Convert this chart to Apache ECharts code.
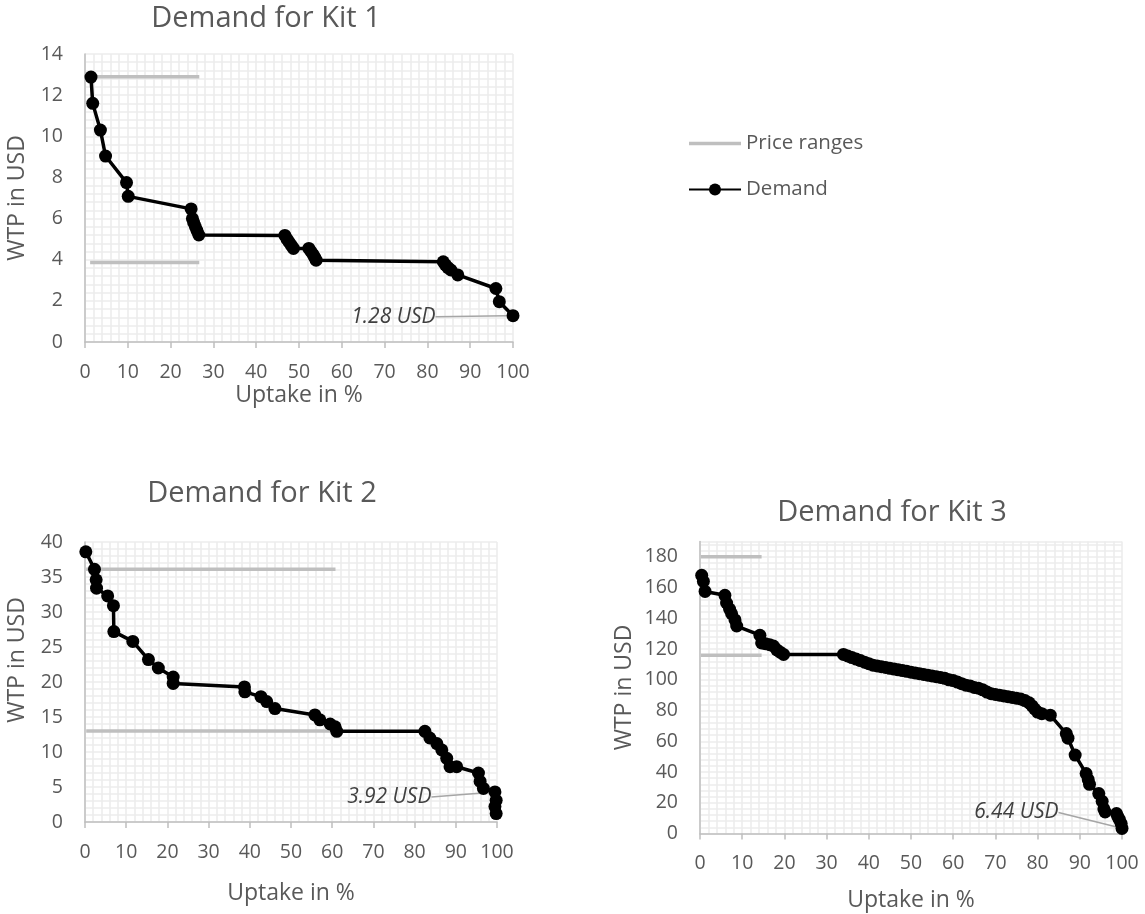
<!DOCTYPE html>
<html>
<head>
<meta charset="utf-8">
<script src="https://cdn.jsdelivr.net/npm/echarts@6/dist/echarts.min.js"></script>
<style>html,body{margin:0;padding:0;background:#fff;}#c{width:1145px;height:914px;}</style>
</head>
<body>
<div id="c"></div>
<script>
// ---- Data ----
const titles = ['Demand for Kit 1', 'Demand for Kit 2', 'Demand for Kit 3'];
const xName = 'Uptake in %';
const yName = 'WTP in USD';

const kit1X = [1.4, 1.8, 3.6, 4.8, 9.7, 10.1, 24.8, 25.1, 25.4, 25.8, 26.2, 26.6, 46.7, 47.2, 47.7, 48.2, 48.7, 52.3, 52.8, 53.3, 53.7, 54.0, 83.7, 84.2, 84.8, 85.5, 87.1, 96.0, 96.8, 100];
const kit1Y = [12.88, 11.6, 10.3, 9.04, 7.75, 7.08, 6.47, 6.0, 5.8, 5.6, 5.4, 5.2, 5.18, 5.0, 4.85, 4.7, 4.55, 4.55, 4.4, 4.25, 4.1, 3.98, 3.9, 3.75, 3.62, 3.5, 3.26, 2.6, 1.96, 1.28];

const kit2X = [0.2, 2.3, 2.7, 2.8, 5.5, 6.9, 7.0, 11.6, 15.4, 17.8, 21.4, 21.4, 38.7, 38.8, 42.7, 44.1, 46.1, 55.8, 57.0, 59.5, 60.7, 61.1, 82.5, 83.7, 85.4, 86.6, 87.8, 88.6, 90.2, 95.5, 95.9, 96.7, 99.5, 99.8, 99.5, 99.8];
const kit2Y = [38.6, 36.1, 34.6, 33.4, 32.3, 30.9, 27.2, 25.8, 23.2, 22.0, 20.7, 19.8, 19.3, 18.6, 17.9, 17.2, 16.2, 15.3, 14.6, 14.0, 13.6, 12.95, 12.95, 12.0, 11.2, 10.3, 9.1, 7.9, 7.9, 7.0, 5.8, 4.8, 4.3, 3.1, 2.2, 1.2];

const kit3X = [0.4, 0.8, 1.2, 5.9, 6.3, 7.0, 7.5, 8.3, 8.7, 14.2, 14.6, 15.5, 16.5, 17.4, 18.2, 19.0, 19.8,
  34, 35, 36, 37, 38, 39, 40, 41, 42, 43, 44, 45, 46, 47, 48, 49, 50, 51, 52, 53, 54, 55, 56, 57, 58, 59, 60,
  61, 62, 63, 64, 65, 66, 67, 68, 69, 70, 71, 72, 73, 74, 75, 76, 77, 78, 78.7, 79.3, 80, 81, 83,
  86.8, 87.2, 88.9, 91.5, 92.0, 92.3, 94.5, 95.3, 95.7, 96.0, 98.7, 99.0, 99.4, 99.8, 100];
const kit3Y = [168, 164, 157.5, 155, 150, 146, 143, 139, 135, 129, 124, 123.5, 122.8, 122, 119.5, 118, 116.5,
  116.5, 115.5, 114.5, 113.5, 112.5, 111.5, 110.5, 109.5, 109, 108.5, 108, 107.5, 107, 106.5, 106, 105.5, 105, 104.5, 104, 103.5, 103, 102.5, 102, 101.5, 101, 100, 99.5,
  98.5, 97.5, 96.5, 96, 95, 94.5, 93.5, 92, 91, 90.5, 90, 89.5, 89, 88.5, 88, 87.5, 86.5, 85, 83, 81, 79, 78, 77,
  65, 62, 51, 39, 35, 32, 26, 21, 16, 14, 13, 11, 9, 6.44, 3.3];

// price ranges: [xStart, xEnd], levels
const kit1PriceX = [1.2, 26.7], kit1PriceLevels = [12.9, 3.87];
const kit2PriceX = [0.3, 60.8], kit2PriceLevels = [36.1, 13.0];
const kit3PriceX = [0.2, 14.6], kit3PriceLevels = [180, 116];

// annotations (text, index of demand point)
const kit1Note = ['1.28 USD', kit1X.length - 1];
const kit2Note = ['3.92 USD', 32];
const kit3Note = ['6.44 USD', kit3X.length - 1];

// axis scales
const yMax = [14, 40, 190], yStep = [2, 5, 20];

// ---- Layout / style ----
const FONT = 'Open Sans';
const TXT = '#595959';
const grids = [
  {left: 85, top: 54, width: 428, height: 288},
  {left: 85, top: 542, width: 412, height: 280},
  {left: 700, top: 541.5, width: 422, height: 292}
];
const xNameGap = [42, 60, 55];
const yNameGap = [56, 56, 64];
const yNamePad = [[0,0,0,0],[0,0,0,44],[0,0,0,0]];
const labelShift = [{dx: -66, dy: 1}, {dx: -52, dy: 5}, {dx: -52, dy: -16}];

const chart = echarts.init(document.getElementById('c'), null, {renderer: 'canvas'});

const xAxes = [], yAxes = [], series = [];
const gridLine = {show: true, lineStyle: {color: '#ededed', width: 1.6}};
const kits = [
  {x: kit1X, y: kit1Y, px: kit1PriceX, pl: kit1PriceLevels, note: kit1Note},
  {x: kit2X, y: kit2Y, px: kit2PriceX, pl: kit2PriceLevels, note: kit2Note},
  {x: kit3X, y: kit3Y, px: kit3PriceX, pl: kit3PriceLevels, note: kit3Note}
];

kits.forEach((k, i) => {
  xAxes.push({
    gridIndex: i, type: 'value', min: 0, max: 100, interval: 10,
    name: xName, nameLocation: 'middle', nameGap: xNameGap[i],
    nameTextStyle: {fontFamily: FONT, fontSize: 23, color: TXT},
    axisLine: {show: true, onZero: false, lineStyle: {color: '#bfbfbf', width: 1.5}},
    axisTick: {show: true, length: 6, lineStyle: {color: '#bfbfbf', width: 1.5}},
    axisLabel: {fontFamily: FONT, fontSize: 19.5, color: TXT, margin: 20},
    splitLine: gridLine,
    minorTick: {show: false, splitNumber: 5},
    minorSplitLine: {show: true, lineStyle: {color: '#ededed', width: 1.6}}
  });
  yAxes.push({
    gridIndex: i, type: 'value', min: 0, max: yMax[i], interval: yStep[i],
    name: yName, nameLocation: 'middle', nameGap: yNameGap[i],
    nameTextStyle: {fontFamily: FONT, fontSize: 23, color: TXT, padding: yNamePad[i]},
    axisLine: {show: true, lineStyle: {color: '#bfbfbf', width: 1.5}},
    axisTick: {show: false},
    axisLabel: {fontFamily: FONT, fontSize: 19.5, color: TXT, margin: 22, showMaxLabel: i === 2 ? false : true},
    splitLine: gridLine,
    minorTick: {show: false, splitNumber: 5},
    minorSplitLine: {show: true, lineStyle: {color: '#ededed', width: 1.6}}
  });
  k.pl.forEach(level => {
    series.push({
      name: 'Price ranges', type: 'line', xAxisIndex: i, yAxisIndex: i,
      data: [[k.px[0], level], [k.px[1], level]],
      showSymbol: false, symbol: 'none',
      lineStyle: {color: '#bfbfbf', width: 3.5}, itemStyle: {color: '#bfbfbf'},
      z: 2, silent: true
    });
  });
  series.push({
    name: 'Demand', type: 'line', xAxisIndex: i, yAxisIndex: i,
    data: k.x.map((x, j) => j === k.note[1]
      ? {value: [x, k.y[j]], label: {show: true, formatter: k.note[0]}}
      : [x, k.y[j]]),
    symbol: 'circle', symbolSize: 13, showAllSymbol: true,
    lineStyle: {color: '#000', width: 3.5}, itemStyle: {color: '#000'},
    label: {show: false, position: 'left', fontFamily: FONT, fontSize: 21, fontStyle: 'italic', color: '#404040'},
    labelLayout: labelShift[i],
    labelLine: {show: true, lineStyle: {color: '#a6a6a6', width: 1.5}},
    z: 3
  });
});

const titleStyle = {fontFamily: FONT, fontSize: 29, fontWeight: 'normal', color: TXT};
chart.setOption({
  animation: false,
  backgroundColor: '#fff',
  title: [
    {text: titles[0], left: 261, top: -1, textAlign: 'center', textStyle: titleStyle},
    {text: titles[1], left: 257, top: 474, textAlign: 'center', textStyle: titleStyle},
    {text: titles[2], left: 887, top: 493, textAlign: 'center', textStyle: titleStyle}
  ],
  legend: {
    orient: 'vertical', left: 683, top: 128, itemWidth: 52, itemHeight: 15, itemGap: 25,
    data: [
      {name: 'Price ranges', icon: 'path://M0,0h52v3.5h-52z', itemStyle: {color: '#bfbfbf'}},
      {name: 'Demand'}
    ],
    textStyle: {fontFamily: FONT, fontSize: 20.5, color: TXT}
  },
  grid: grids,
  xAxis: xAxes,
  yAxis: yAxes,
  series: series
});
</script>
</body>
</html>
